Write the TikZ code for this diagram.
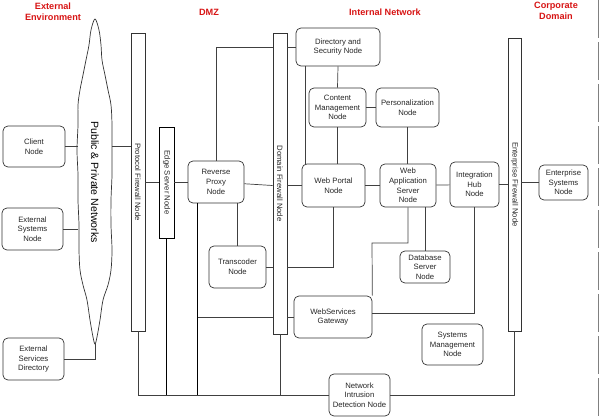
\documentclass[tikz,border=0pt]{standalone}
\usepackage{fontspec}
\setmainfont{Liberation Sans}
\usetikzlibrary{calc}
\definecolor{titlered}{RGB}{215,20,20}
\begin{document}
\begin{tikzpicture}[x=0.025cm, y=-0.025cm,
    boxsize/.style 2 args={minimum width=#1*0.025cm, minimum height=#2*0.025cm},
    box/.style={draw=black!80, line width=0.5pt, rounded corners=3.5pt, align=center, inner sep=0pt, text=black!85, font=\fontsize{5.5}{6.9}\selectfont},
    bar/.style={draw=black!80, line width=0.5pt, inner sep=0pt},
    bartext/.style={rotate=-90, inner sep=0pt, text=black!85, font=\fontsize{5.5}{6.9}\selectfont},
    link/.style={draw=black!75, line width=0.5pt},
    heavy/.style={draw=black, line width=0.75pt},
    title/.style={text=titlered, align=center, font=\fontsize{6.5}{8}\selectfont\bfseries}]
    \useasboundingbox (0,0) rectangle (600,416);
    \node[title] (tenv) at (53,12) {External\\Environment};
    \node[title] (tdmz) at (209,12) {DMZ};
    \node[title] (tint) at (385,12) {Internal Network};
    \node[title] (tcorp) at (556,10.5) {Corporate\\Domain};
    \draw[black!80, line width=0.5pt] plot[smooth cycle, tension=0.55] coordinates {(95,19) (91,30) (89,45) (86,60) (83,75) (80,90) (78,105) (78,125) (77,150) (78,175) (78,200) (79,225) (79,250) (80,270) (83,285) (87,300) (90,320) (93,337) (95,344) (97,337) (100,320) (103,300) (108,285) (111,270) (112,250) (111,225) (111,200) (112,175) (112,150) (112,125) (111,105) (108,90) (105,75) (102,60) (101,45) (99,30)};
    \node[rotate=-90, font=\fontsize{7.5}{9}\selectfont] (net) at (95,182) {Public \& Private Networks};
    \coordinate (netw) at (78,182);
    \coordinate (nete) at (112,182);
    \coordinate (nettip) at (95,344);
    \node[box, boxsize={62}{41}] (client) at (34,146.5) {Client\\Node};
    \node[box, boxsize={61}{42}] (extsys) at (32.5,229) {External\\Systems\\Node};
    \node[box, boxsize={61}{42}] (extsvc) at (33.5,359) {External\\Services\\Directory};
    \node[bar, boxsize={14}{298}] (pfw) at (138,182) {};
    \node[bartext] (pfwt) at (pfw) {Protocol Firewall Node};
    \node[bar, line width=0.6pt, draw=black, boxsize={15}{111}] (edge) at (166.5,182.5) {};
    \node[bartext] (edget) at (edge) {Edge Server Node};
    \node[bar, boxsize={14}{301}] (dfw) at (280,183.5) {};
    \node[bartext] (dfwt) at (dfw) {Domain Firewall Node};
    \node[bar, boxsize={13}{293}] (efw) at (514.5,184.5) {};
    \node[bartext] (efwt) at (efw) {Enterprise Firewall Node};
    \node[box, boxsize={56}{42}] (proxy) at (216,182) {Reverse\\Proxy\\Node};
    \node[box, boxsize={57}{42}] (transcoder) at (237.5,267) {Transcoder\\Node};
    \node[box, boxsize={84}{38}] (directory) at (338,47) {Directory and\\Security Node};
    \node[box, boxsize={57}{39}] (content) at (337.5,107.5) {Content\\Management\\Node};
    \node[box, boxsize={63}{39}] (personal) at (407.5,107.5) {Personalization\\Node};
    \node[box, boxsize={63}{43}] (portal) at (333.5,185.5) {Web Portal\\Node};
    \node[box, boxsize={56}{43}] (was) at (408,185.5) {Web\\Application\\Server\\Node};
    \node[box, boxsize={49}{45}] (hub) at (474.5,184.5) {Integration\\Hub\\Node};
    \node[box, boxsize={49}{35}] (entsys) at (563.5,182.5) {Enterprise\\Systems\\Node};
    \node[box, boxsize={50}{32}] (database) at (425,267) {Database\\Server\\Node};
    \node[box, boxsize={78}{42}] (wsg) at (333,317) {WebServices\\Gateway};
    \node[box, boxsize={61}{41}] (sysmgmt) at (452.5,344.5) {Systems\\Management\\Node};
    \node[box, boxsize={61}{42}] (nids) at (359.5,395) {Network\\Intrusion\\Detection Node};
    \coordinate (wsbend) at (372,243);
    \draw[link] (client) -- (client -| netw);
    \draw[link] (client -| nete) -- (client -| pfw.west);
    \draw[link] (extsys) -- (extsys -| netw);
    \draw[link] (extsvc) -| (nettip);
    \draw[link] (pfw.east |- proxy) -- (edge.west |- proxy);
    \draw[link] (edge.east |- proxy) -- (proxy);
    \draw[link] (proxy) -- (dfw.west |- portal);
    \draw[link] (dfw.east |- portal) -- (portal);
    \draw[link] (proxy.north) |- (dfw.west |- directory);
    \draw[link] (dfw.east |- directory) -- (directory);
    \draw[link] (directory.south) -- (content.north);
    \draw[link] ([xshift=0.1cm]portal.north west) -- ([xshift=0.1cm]portal.north west |- directory.south);
    \draw[link] (content) -- (personal);
    \draw[link] (content.south) -- (content.south |- portal.north);
    \draw[link] (personal.south) -- (personal.south |- was.north);
    \draw[link] (portal) -- (was);
    \draw[link] (was) -- (hub);
    \draw[link] (hub) -- (hub -| efw.west);
    \draw[link] (efw.east |- entsys) -- (entsys);
    \draw[link] (transcoder.north |- proxy.south) -- (transcoder.north);
    \draw[link] (transcoder) -- (transcoder -| dfw.west);
    \draw[link] (transcoder -| dfw.east) -| (portal.south);
    \draw[link] (was.south) |- (wsbend) -- (wsg.north east);
    \draw[link] (database.north) -- (database.north |- was.south);
    \draw[link] (hub.south) |- ([yshift=0.1cm]wsg.east);
    \draw[link] (dfw.east |- wsg) -- (wsg);
    \draw[heavy] ([xshift=0.25cm]proxy.south west) coordinate (pdrop) -- (pdrop |- nids);
    \draw[link] (pdrop |- wsg) -- (dfw.west |- wsg);
    \draw[heavy] (edge.south) -- (edge.south |- nids);
    \draw[link] (pfw.south) |- (nids);
    \draw[link] (dfw.south) -- (dfw.south |- nids);
    \draw[link] (nids) -| (efw.south);
    \draw[black!50, line width=0.6pt, dash pattern=on 0.95cm off 0.1cm] (598,0) -- (598,416);
\end{tikzpicture}
\end{document}
